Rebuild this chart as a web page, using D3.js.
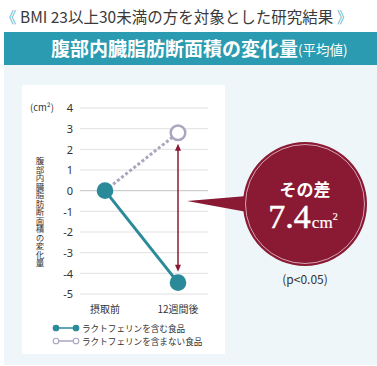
<!DOCTYPE html>
<html><head><meta charset="utf-8">
<script src="https://cdn.jsdelivr.net/npm/d3@7"></script>
<style>
html,body{margin:0;padding:0;background:#fff;}
svg{display:block;font-family:"Noto Sans CJK JP","Noto Sans",sans-serif;}
</style></head>
<body><svg id="c" width="377" height="366"></svg>
<script>
const categories = ["摂取前", "12週間後"];
const withLF = [0, -4.45];
const withoutLF = [0, 2.8];
const yTicks = [4, 3, 2, 1, 0, -1, -2, -3, -4, -5];
const seriesNames = ["ラクトフェリンを含む食品", "ラクトフェリンを含まない食品"];
const titleText = "BMI 23以上30未満の方を対象とした研究結果";
const bannerText = "腹部内臓脂肪断面積の変化量";
const bannerSub = "(平均値)";
const yAxisTitle = "腹部内臓脂肪断面積の変化量";
const diffLabel = "その差";
const diffValue = "7.4";
const pText = "(p<0.05)";

const teal = "#2a8a9a", gray = "#a9a6bf", crimson = "#8a1934";
const svg = d3.select("#c");

// title
const t = svg.append("text").attr("x", 1).attr("y", 23).attr("font-size", 15.5).attr("fill", "#3a3a3a");
t.append("tspan").attr("fill", "#62b8d0").text("《");
t.append("tspan").text(" " + titleText + " ");
t.append("tspan").attr("fill", "#62b8d0").text("》");

// banner
svg.append("rect").attr("x", 4).attr("y", 32).attr("width", 373).attr("height", 33).attr("fill", "#2a9bb0");
const b = svg.append("text").attr("x", 51).attr("y", 56).attr("fill", "#fff").attr("font-size", 19).attr("font-weight", "bold");
b.append("tspan").text(bannerText);
b.append("tspan").attr("font-size", 13.5).attr("font-weight", "normal").attr("dy", -1).text(bannerSub);

// panel
svg.append("rect").attr("x", 4).attr("y", 65).attr("width", 373).attr("height", 300).attr("fill", "#eef6f9");
svg.append("rect").attr("x", 22).attr("y", 85).attr("width", 203).attr("height", 269).attr("fill", "#fff");

// scales
const y = d3.scaleLinear().domain([-5, 4]).range([294, 108]);
const x = d3.scalePoint().domain(categories).range([105, 178]);

// grid
svg.append("g").selectAll("line").data(yTicks).join("line")
  .attr("x1", 80).attr("x2", 208).attr("y1", d => y(d)).attr("y2", d => y(d))
  .attr("stroke", d => d === 0 ? "#cfcfcf" : "#e0e0e0").attr("stroke-width", d => d === 0 ? 1.3 : 1);
const yAxis = d3.axisLeft(y).tickValues(yTicks).tickSize(0).tickPadding(0).tickFormat(d => String(d));
const ga = svg.append("g").attr("transform", "translate(73,0)").call(yAxis);
ga.select(".domain").remove();
ga.selectAll("text").attr("font-size", 11).attr("fill", "#333").attr("font-family", "'Noto Sans', sans-serif").attr("dy", "0.35em");

svg.append("text").attr("x", 30).attr("y", 111).attr("font-size", 9.5).attr("fill", "#333").text("(cm²)");

// x labels
svg.append("g").selectAll("text").data(categories).join("text")
  .attr("x", d => x(d)).attr("y", 313).attr("text-anchor", "middle").attr("font-size", 10).attr("fill", "#333").text(d => d);

// y title (vertical writing)
svg.append("text").attr("x", 40).attr("y", 157).attr("font-size", 8.5).attr("fill", "#333")
  .style("writing-mode", "vertical-rl").style("text-orientation", "upright").text(yAxisTitle);

// lines
const line = d3.line().x((d, i) => x(categories[i])).y(d => y(d));
svg.append("path").datum(withoutLF).attr("d", line).attr("fill", "none").attr("stroke", gray)
  .attr("stroke-width", 3).attr("stroke-dasharray", "3,2.2");
svg.append("path").datum(withLF).attr("d", line).attr("fill", "none").attr("stroke", teal).attr("stroke-width", 3);

// double arrow
const ax = x(categories[1]);
const yTop = y(withoutLF[1]) + 11, yBot = y(withLF[1]) - 11;
svg.append("line").attr("x1", ax).attr("x2", ax).attr("y1", yTop + 3).attr("y2", yBot - 3).attr("stroke", crimson).attr("stroke-width", 1.5);
svg.append("path").attr("d", `M${ax},${yTop} L${ax-3},${yTop+7} L${ax+3},${yTop+7} Z`).attr("fill", crimson);
svg.append("path").attr("d", `M${ax},${yBot} L${ax-3},${yBot-7} L${ax+3},${yBot-7} Z`).attr("fill", crimson);

// points
svg.append("circle").attr("cx", x(categories[1])).attr("cy", y(withoutLF[1])).attr("r", 7.3)
  .attr("fill", "#fff").attr("stroke", gray).attr("stroke-width", 2.5);
svg.append("g").selectAll("circle").data(withLF).join("circle")
  .attr("cx", (d, i) => x(categories[i])).attr("cy", d => y(d)).attr("r", 8.3).attr("fill", teal);

// bubble
const cx = 305, cy = 204, r = 62;
svg.append("path").attr("d", `M187,201 L${cx - r + 4},${cy - 8} L${cx - r + 4},${cy + 8} Z`).attr("fill", crimson);
svg.append("circle").attr("cx", cx).attr("cy", cy).attr("r", r).attr("fill", crimson);
svg.append("circle").attr("cx", cx).attr("cy", cy).attr("r", r - 2.5).attr("fill", "none").attr("stroke", "#f3dfe4").attr("stroke-width", 0.7);
svg.append("text").attr("x", cx).attr("y", cy - 8).attr("text-anchor", "middle").attr("fill", "#fff")
  .attr("font-size", 17).attr("font-weight", "bold").text(diffLabel);
const v = svg.append("text").attr("x", cx - 2).attr("y", cy + 24).attr("text-anchor", "middle").attr("fill", "#fff")
  .attr("stroke", "#fff").attr("stroke-width", 0.5)
  .attr("font-family", "'Liberation Serif','DejaVu Serif',serif");
v.append("tspan").attr("font-size", 34).text(diffValue);
v.append("tspan").attr("font-size", 17).attr("stroke-width", 0.2).attr("dx", 1).text("cm");
v.append("tspan").attr("font-size", 10).attr("stroke-width", 0.2).attr("dy", -8).text("2");

svg.append("text").attr("x", cx).attr("y", 284).attr("text-anchor", "middle").attr("font-size", 12).attr("fill", "#333").text(pText);

// legend
const lg = svg.append("g");
[0, 1].forEach(i => {
  const ly = 328 + i * 13;
  const c = i === 0 ? teal : gray;
  lg.append("line").attr("x1", 56).attr("x2", 76).attr("y1", ly).attr("y2", ly).attr("stroke", c).attr("stroke-width", 1.5);
  [56, 76].forEach(px => lg.append("circle").attr("cx", px).attr("cy", ly).attr("r", 2.8)
    .attr("fill", i === 0 ? teal : "#fff").attr("stroke", c).attr("stroke-width", 1.1));
  lg.append("text").attr("x", 82).attr("y", ly + 3.5).attr("font-size", 8.6).attr("fill", "#333").text(seriesNames[i]);
});
</script></body></html>
